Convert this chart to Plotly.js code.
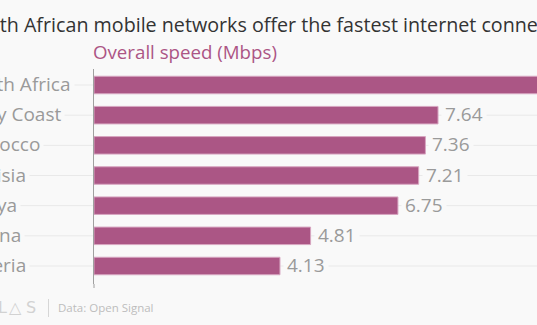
<!DOCTYPE html>
<html>
<head>
<meta charset="utf-8">
<script src="https://cdn.plot.ly/plotly-3.0.1.min.js"></script>
<style>
html,body{margin:0;padding:0;background:#f9f9f9;}
#chart{width:537px;height:325px;}
</style>
</head>
<body>
<div id="chart"></div>
<script>
// Data
const countries = ["South Africa", "Ivory Coast", "Morocco", "Tunisia", "Kenya", "Ghana", "Nigeria"];
const speeds = [11.5, 7.64, 7.36, 7.21, 6.75, 4.81, 4.13];
const valueLabels = ["", "7.64", "7.36", "7.21", "6.75", "4.81", "4.13"];
const titleText = "South African mobile networks offer the fastest internet connections in Africa";
const subtitleText = "Overall speed (Mbps)";
const sourceText = "Data: Open Signal";
const logoChars = ["△", "T", "L", "△", "S"];

const W = 537, H = 325;
const L = 94, R = 0, T = 69, B = 41;
const pw = W - L - R, ph = H - T - B;
const px = x => (x - L) / pw;
const py = y => (H - B - y) / ph;

const BG = "#f9f9f9";
const FONT = "'Open Sans', sans-serif";

const annotations = [];
const shapes = [];

// title
annotations.push({xref:"paper", yref:"paper", x:px(-37), y:py(25), xanchor:"left", yanchor:"middle",
  text:titleText, showarrow:false, font:{family:FONT, size:19.7, color:"#333333"}});
annotations.push({xref:"paper", yref:"paper", x:px(91), y:py(51), xanchor:"left", yanchor:"middle",
  text:subtitleText, showarrow:false, font:{family:FONT, size:18.7, color:"#ac5585"}});

// category labels and gridlines
countries.forEach((c, i) => {
  shapes.push({type:"line", xref:"paper", yref:"y", x0:px(-60), x1:1, y0:c, y1:c,
    line:{color:"#e9e9e9", width:1}, layer:"below"});
  annotations.push({xref:"paper", yref:"y", x:px(-41), y:c, xanchor:"left", yanchor:"middle", yshift:1,
    text:c, showarrow:false, bgcolor:BG, borderpad:3, font:{family:FONT, size:19, color:"#9a9a9a"}});
  if (valueLabels[i]) {
    annotations.push({xref:"x", yref:"y", x:speeds[i], y:c, xanchor:"left", yanchor:"middle", xshift:3, yshift:1,
      text:valueLabels[i], showarrow:false, bgcolor:BG, borderpad:3, font:{family:FONT, size:19, color:"#9a9a9a"}});
  }
});

// footer
const logoX = [-21, -8, 2, 15, 31];
logoChars.forEach((ch, i) => {
  annotations.push({xref:"paper", yref:"paper", x:px(logoX[i]), y:py(307), xanchor:"center", yanchor:"middle",
    text:ch, showarrow:false, font:{family:"'DejaVu Sans', sans-serif", size:16, color:"#d2d2d2"}});
});
shapes.push({type:"line", xref:"paper", yref:"paper", x0:px(48.5), x1:px(48.5), y0:py(299), y1:py(317),
  line:{color:"#d6d6d6", width:1}});
annotations.push({xref:"paper", yref:"paper", x:px(56), y:py(307), xanchor:"left", yanchor:"middle",
  text:sourceText, showarrow:false, font:{family:FONT, size:11.5, color:"#bdbdbd"}});
// small tick under axis
shapes.push({type:"line", xref:"paper", yref:"paper", x0:0, x1:0, y0:0, y1:py(288),
  line:{color:"#a0a0a0", width:1}});

const trace = {
  type:"bar", orientation:"h", x:speeds, y:countries,
  marker:{color:"#ab5685", line:{color:"#d7a6c1", width:1}},
  hoverinfo:"none", cliponaxis:true
};

const layout = {
  width:W, height:H, paper_bgcolor:BG, plot_bgcolor:BG,
  margin:{l:L, r:R, t:T, b:B},
  showlegend:false, bargap:0.42,
  xaxis:{range:[0, pw/45.03], showgrid:false, zeroline:false, showticklabels:false, ticks:"", showline:false, fixedrange:true},
  yaxis:{autorange:"reversed", showgrid:false, zeroline:false, showticklabels:false, ticks:"",
    showline:true, linecolor:"#a0a0a0", linewidth:1, fixedrange:true},
  annotations, shapes
};

Plotly.newPlot("chart", [trace], layout, {displayModeBar:false, staticPlot:true});
</script>
</body>
</html>
